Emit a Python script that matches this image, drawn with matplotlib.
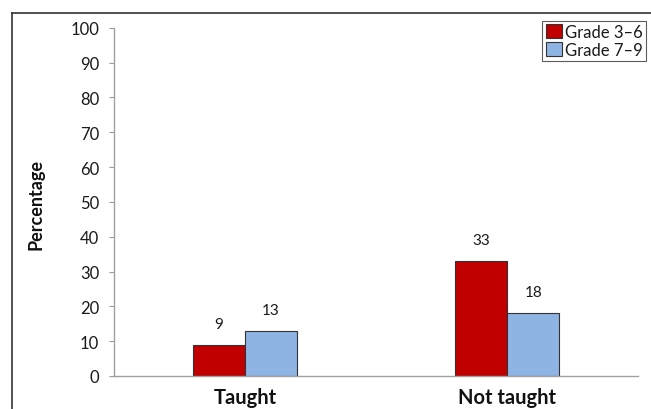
import matplotlib
matplotlib.use("Agg")
import matplotlib.pyplot as plt
from matplotlib.lines import Line2D
import numpy as np

categories = ["Taught", "Not taught"]
series_names = ["Grade 3\u20136", "Grade 7\u20139"]
grade_3_6 = [9, 33]
grade_7_9 = [13, 18]
colors = ["#C00000", "#8EB4E3"]
yticks = [0, 10, 20, 30, 40, 50, 60, 70, 80, 90, 100]

plt.rcParams['font.family'] = ['Lato', 'DejaVu Sans']

fig = plt.figure(figsize=(6.51, 4.10), dpi=100)
ax = fig.add_axes([0.175, 0.0805, 0.805, 0.8495])

x = np.arange(len(categories))
w = 0.2
bars1 = ax.bar(x - w/2, grade_3_6, w, color=colors[0], edgecolor="#333333", linewidth=0.8, label=series_names[0])
bars2 = ax.bar(x + w/2, grade_7_9, w, color=colors[1], edgecolor="#333333", linewidth=0.8, label=series_names[1])

for bars, vals in ((bars1, grade_3_6), (bars2, grade_7_9)):
    for b, v in zip(bars, vals):
        ax.annotate(str(v), (b.get_x() + b.get_width()/2, v), xytext=(0, 10),
                    textcoords="offset points", ha="center", va="bottom",
                    fontsize=11, color="#1a1a1a")

ax.set_xlim(-0.5, 1.5)
ax.set_ylim(0, 100)
ax.set_yticks(yticks)
ax.set_yticklabels([str(t) for t in yticks], fontsize=12, color="#1a1a1a")
ax.set_xticks(x)
ax.set_xticklabels(categories, fontsize=14.5, fontweight="bold", color="#111111")
ax.tick_params(axis="x", length=0, pad=8)
ax.tick_params(axis="y", length=3.6, width=0.8, color="#999999", pad=7)
for s in ("top", "right"):
    ax.spines[s].set_visible(False)
for s in ("left", "bottom"):
    ax.spines[s].set_color("#a0a0a0")
    ax.spines[s].set_linewidth(1.0)

ax.set_ylabel("Percentage", fontsize=13, fontweight="bold", color="#111111")
ax.yaxis.set_label_coords(45/651, 0.5, transform=fig.transFigure)

leg = fig.legend(handles=[bars1, bars2], labels=series_names,
                 loc="upper right", bbox_to_anchor=(646/651, 1 - 21.7/410),
                 fontsize=12, handlelength=0.95, handleheight=0.95,
                 handletextpad=0.2, borderpad=0.2, labelspacing=0.1,
                 borderaxespad=0, fancybox=False, frameon=True)
leg.get_frame().set_edgecolor("#333333")
leg.get_frame().set_linewidth(0.8)
for t in leg.get_texts():
    t.set_color("#1a1a1a")

# outer frame lines (top and left)
fig.add_artist(Line2D([12/651, 1], [1 - 14/410, 1 - 14/410], transform=fig.transFigure, color="#333333", lw=1.2))
fig.add_artist(Line2D([12/651, 12/651], [0, 1 - 14/410], transform=fig.transFigure, color="#333333", lw=1.2))

fig.savefig("out.png", dpi=100)
